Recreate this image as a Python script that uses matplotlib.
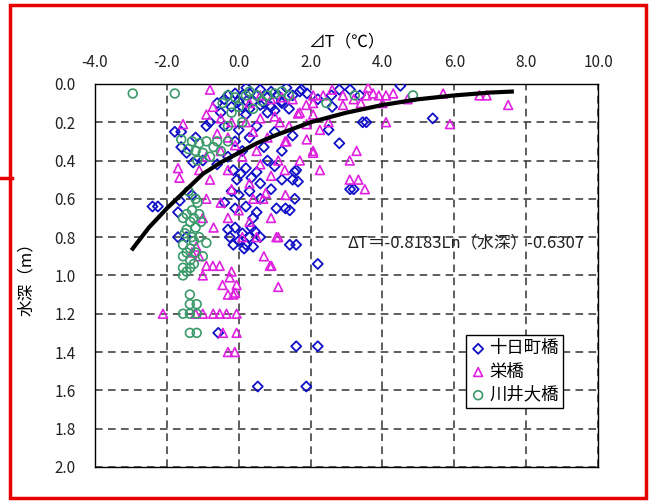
# Importamos las bibliotecas necesarias
import matplotlib
matplotlib.use('Agg')
import matplotlib.pyplot as plt
from matplotlib.patches import Rectangle
from matplotlib.lines import Line2D

plt.rcParams['font.family'] = ['Noto Sans CJK JP', 'DejaVu Sans']
plt.rcParams['axes.unicode_minus'] = False

# Datos: 十日町橋
tokamachi_x = [0.21, 1.33, 1.7, 1.5, 1.75, 2.58, 2.8, 3.1, 3.37, 4.5, -0.3, -0.1, 0.1, 0.3, 0.5, 0.8, 1.1, 0.0, 0.4,
               -0.2, 0.1, 0.3, 0.6, 0.9, 1.2, 1.4, 0.8, -0.5, 0.2,
               5.4, 3.45, 3.55, -1.78, -1.6, -0.8, -0.4, 0.0, 0.5, 1.0, 2.5, 1.5, 0.3, -0.1, 2.8, 1.2, 0.7,
               -1.45, -1.27, -1.6, -0.15, 0.05, 0.2, 0.35, 0.5, -0.05, 1.56, 1.65, 1.5, 1.6, 0.8, 1.0, -0.6, 0.6,
               3.1, 3.2, -0.2, 0.0, 0.3, 0.6, -0.4, 1.05, 1.3, 1.42, 1.56, -2.4, -2.25, -1.69, -1.64, 0.2, 0.5, -1.3,
               -1.69, -1.46, -0.3, -0.1, 0.1, 0.3, 0.45, 0.0, 0.2, 0.4, -0.15, 1.42, 1.6, 0.6,
               2.2, -0.57, 1.6, 2.2, 0.53, 1.88,
               -0.4, 0.6, 0.9, 1.2, 0.7, -0.6, 1.0, -0.9, -1.2, -1.0, -0.3, 0.1, 0.9, 1.2, -0.1, 0.4, 0.15,
               -0.25, 0.35, 1.9, 2.2, 2.6]
tokamachi_y = [0.02, 0.02, 0.04, 0.06, 0.03, 0.06, 0.03, 0.03, 0.06, 0.01, 0.06, 0.05, 0.06, 0.05, 0.06, 0.07, 0.06, 0.09, 0.09,
               0.12, 0.12, 0.13, 0.11, 0.12, 0.1, 0.13, 0.15, 0.15, 0.16,
               0.18, 0.2, 0.2, 0.25, 0.25, 0.2, 0.22, 0.24, 0.22, 0.25, 0.24, 0.27, 0.28, 0.3, 0.31, 0.35, 0.33,
               0.36, 0.41, 0.33, 0.45, 0.47, 0.44, 0.49, 0.46, 0.5, 0.46, 0.51, 0.5, 0.45, 0.4, 0.43, 0.42, 0.52,
               0.55, 0.55, 0.56, 0.58, 0.56, 0.6, 0.62, 0.65, 0.65, 0.66, 0.6, 0.64, 0.64, 0.67, 0.61, 0.64, 0.67, 0.58,
               0.8, 0.8, 0.76, 0.75, 0.78, 0.8, 0.77, 0.82, 0.84, 0.85, 0.84, 0.84, 0.84, 0.8,
               0.94, 1.3, 1.37, 1.37, 1.58, 1.58,
               0.08, 0.03, 0.04, 0.09, 0.1, 0.1, 0.14, 0.22, 0.28, 0.4, 0.38, 0.35, 0.55, 0.5, 0.65, 0.7, 0.86,
               0.8, 0.75, 0.05, 0.08, 0.12]

# 栄橋
sakae_x = [2.07, 2.35, 2.9, 3.56, 3.74, 3.9, 4.1, 4.3, 3.6, 2.9, 2.07, 3.4, 4.0, 4.7, 5.69, 6.7, 6.9, 7.5, 5.88, 4.1,
           0.6, 0.9, 1.2, 0.3,
           -0.72, -0.9, -1.55, -0.5, -0.2, 0.2, 0.6, 1.0, 1.7, 2.07, 1.14, 1.89, 2.26, 1.65, 1.88, 0.4, 0.8, -0.3,
           1.29, 1.89, 1.33,
           2.07, 3.28, 3.09, 1.7, 1.1, 2.26, 1.28, 3.09, 3.33, 3.51, -1.69, -1.65, -0.9, -0.5, 0.1, 0.6, 0.9, -0.3,
           0.3, -0.8, 2.07,
           0.68, 0.75, -0.9, -0.5, 0.0, -0.3, 0.3, 0.9, 0.1, 0.5, 1.05, 1.1, -0.7,
           -1.18, -1.3, -1.1, -0.9, -0.72, -0.53, -0.25, -0.06, -0.1, 0.87, 1.1, 0.91, -0.2,
           -0.3, -0.15, -2.11, -1.2, -1.0, -0.71, -0.53, -0.34, -0.06, -0.44, -0.06, -0.3, -0.11,
           -0.6, -0.1, 0.5, 1.4, -1.1, -0.2, 0.4, 1.3, -1.0, 0.7, 2.5, 1.5, -0.8, 2.6, 3.2, -1.0, -0.45]
sakae_y = [0.06, 0.06, 0.06, 0.06, 0.05, 0.06, 0.06, 0.05, 0.02, 0.11, 0.1, 0.1, 0.1, 0.08, 0.05, 0.06, 0.06, 0.11, 0.21, 0.2,
           0.06, 0.08, 0.07, 0.1,
           0.12, 0.16, 0.21, 0.18, 0.2, 0.2, 0.18, 0.17, 0.15, 0.16, 0.2, 0.21, 0.24, 0.155, 0.11, 0.25, 0.28, 0.28,
           0.3, 0.29, 0.3,
           0.35, 0.35, 0.4, 0.4, 0.4, 0.45, 0.45, 0.5, 0.5, 0.55, 0.44, 0.49, 0.38, 0.35, 0.38, 0.42, 0.48, 0.45,
           0.52, 0.5, 0.36,
           0.6, 0.57, 0.6, 0.62, 0.66, 0.7, 0.72, 0.7, 0.8, 0.8, 0.8, 0.8, 0.75,
           0.85, 0.88, 0.9, 0.95, 0.95, 0.95, 1.01, 1.05, 1.09, 0.95, 1.06, 0.95, 0.98,
           1.1, 1.1, 1.2, 1.2, 1.2, 1.2, 1.2, 1.2, 1.2, 1.3, 1.3, 1.4, 1.4,
           0.26, 0.32, 0.35, 0.22, 0.45, 0.55, 0.6, 0.58, 0.7, 0.9, 0.2, 0.08, 0.03, 0.03, 0.08, 1.0, 1.05]

# 川井大橋
kawai_x = [-2.95, -1.78, -0.3, -0.1, 0.2, 0.5, 0.8, 1.0, 1.4, 2.44, 3.23, 4.85, 0.0, 0.4, -0.2, 0.1, -0.3,
           -1.3, -1.1, -0.9, -0.7, -0.5, -1.2, -1.0, -1.6, -0.8, -0.3,
           -1.4, -1.2, -1.3, -1.1, -1.55, -1.35, -1.2, -1.5, -1.3, -1.1, -1.55, -1.35, -1.2, -1.55, -1.35, -1.55,
           -1.35, -1.55, -1.0, -0.9,
           -1.36, -1.36, -1.17, -1.55, -1.36, -1.17, -1.36, -1.17,
           -1.45, -1.25, -1.45, -1.25, -1.45, -1.25, -1.45, -1.05, -1.15, 0.3, 0.65, -0.45, 1.2, -1.4, -1.15, -0.6]
kawai_y = [0.05, 0.05, 0.06, 0.07, 0.06, 0.06, 0.06, 0.05, 0.06, 0.1, 0.06, 0.06, 0.12, 0.13, 0.15, 0.2, 0.22,
           0.3, 0.31, 0.3, 0.33, 0.35, 0.35, 0.36, 0.29, 0.38, 0.3,
           0.56, 0.6, 0.66, 0.68, 0.7, 0.72, 0.75, 0.78, 0.8, 0.8, 0.84, 0.86, 0.88, 0.9, 0.92, 0.96,
           0.96, 1.0, 0.9, 0.83,
           1.1, 1.15, 1.15, 1.2, 1.2, 1.2, 1.3, 1.3,
           0.68, 0.7, 0.76, 0.82, 0.88, 0.94, 0.98, 0.72, 0.62, 0.04, 0.09, 0.1, 0.04, 0.34, 0.4, 0.3]

# Curva de ajuste
curve_x = [-2.95, -2.5, -2.0, -1.5, -1.0, -0.5, 0.0, 0.5, 1.0, 1.5, 2.0, 3.0, 4.0, 5.0, 6.0, 7.0, 7.6]
curve_y = [0.86, 0.75, 0.65, 0.56, 0.47, 0.41, 0.36, 0.31, 0.27, 0.235, 0.2, 0.15, 0.11, 0.08, 0.06, 0.045, 0.04]

xticks = [-4.0, -2.0, 0.0, 2.0, 4.0, 6.0, 8.0, 10.0]
yticks = [0.0, 0.2, 0.4, 0.6, 0.8, 1.0, 1.2, 1.4, 1.6, 1.8, 2.0]

fig = plt.figure(figsize=(6.53, 5.01), dpi=100)
ax = fig.add_axes([0.1455, 0.068, 0.7703, 0.7645])

# Dibujamos los puntos
ax.scatter(tokamachi_x, tokamachi_y, marker='D', s=26, facecolors='none', edgecolors='#1010c8',
           linewidths=1.3, label='十日町橋', zorder=3)
ax.scatter(sakae_x, sakae_y, marker='^', s=40, facecolors='none', edgecolors='#e020e0',
           linewidths=1.2, label='栄橋', zorder=3)
ax.scatter(kawai_x, kawai_y, marker='o', s=40, facecolors='none', edgecolors='#3a9a6a',
           linewidths=1.2, label='川井大橋', zorder=3)

# Dibujamos la curva
ax.plot(curve_x, curve_y, color='black', linewidth=3, zorder=4)

ax.text(3.04, 0.83, 'ΔT＝-0.8183Ln（水深）-0.6307', fontsize=12, ha='left', va='center', color='#222222')

# Ejes
ax.set_xlim(-4, 10)
ax.set_ylim(2.0, 0.0)
ax.set_xticks(xticks)
ax.set_yticks(yticks)
ax.set_xticklabels(['%.1f' % v for v in xticks])
ax.set_yticklabels(['%.1f' % v for v in yticks])
ax.xaxis.tick_top()
ax.xaxis.set_label_position('top')
ax.tick_params(length=0, labelsize=11, colors='#222222')
ax.tick_params(axis='x', pad=9)
ax.tick_params(axis='y', pad=14)
ax.grid(True, linestyle=(0, (5, 3.5)), color='#333333', linewidth=1.1)
ax.set_axisbelow(True)
for s in ax.spines.values():
    s.set_linewidth(1)
    s.set_color('black')

ax.set_xlabel('⊿T（℃）', fontsize=12, labelpad=6)
ax.set_ylabel('水深（m）', fontsize=12, labelpad=14)

leg = ax.legend(loc='upper left', bbox_to_anchor=(0.7136, 0.3313), bbox_transform=fig.transFigure,
                fontsize=12.5, frameon=True, fancybox=False, framealpha=1, edgecolor='black',
                handletextpad=0.2, handlelength=0.9, borderpad=0.25, labelspacing=0.3,
                borderaxespad=0)
leg.get_frame().set_linewidth(1)

# Marco rojo
fig.patches.append(Rectangle((10 / 653, 3 / 501), 636 / 653, 493 / 501, transform=fig.transFigure,
                             fill=False, edgecolor='#e80000', linewidth=2.5))
fig.lines.append(Line2D([0, 12 / 653], [1 - 178 / 501, 1 - 178 / 501], transform=fig.transFigure,
                        color='#e80000', linewidth=2.5))

plt.savefig('out.png', dpi=100)
